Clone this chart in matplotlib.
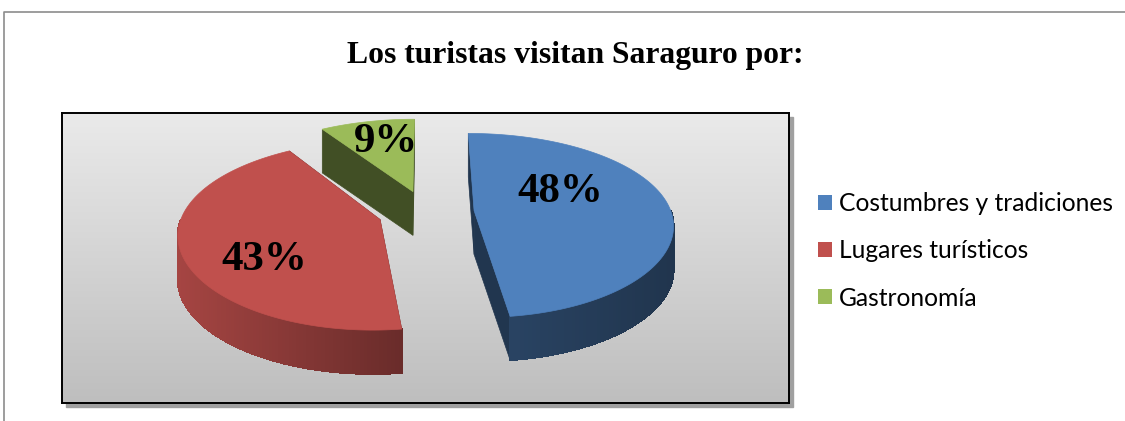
import numpy as np
import matplotlib
matplotlib.use("Agg")
import matplotlib.pyplot as plt
from matplotlib.patches import Polygon, Patch, Rectangle
from matplotlib.colors import to_rgb, LinearSegmentedColormap
from matplotlib.lines import Line2D

# data
categories = ["Costumbres y tradiciones", "Lugares turísticos", "Gastronomía"]
shares = [48, 43, 9]
pct_labels = ["48%", "43%", "9%"]
colors = ["#4F81BD", "#C0504D", "#9BBB59"]
title = "Los turistas visitan Saraguro por:"

# 3d look of the pie
TILT = 0.457
PERSP = 0.161
DEPTH = 0.222
EXPLODE = 0.245
rim_light = [(0.52, 0.41), (0.86, 0.55), (0.5, 0.4)]  # left / right brightness of side
label_nudge = [(0, 16), (-22, -25), (4, 2)]  # px


def project(x, y, z=0.0):
    w = 1 + PERSP * y
    return x / (1 + 0.85 * PERSP * y), TILT * y / w + z


def shade(color, f):
    return tuple(min(1.0, c * f) for c in to_rgb(color))


W, H = 1125, 421
fig = plt.figure(figsize=(W / 100, H / 100), dpi=100)

# outer chart frame (only top and left visible)
fig.add_artist(Line2D([4 / W, 4 / W, 1.0], [0.0, 1 - 12 / H, 1 - 12 / H],
                      transform=fig.transFigure, color="#8c8c8c", lw=1.2))

fig.text(575 / W, 1 - 56 / H, title, ha="center", va="center",
         family="Liberation Serif", weight="bold", fontsize=22.8)

# plot area
left, right, top, bottom = 62, 789, 113, 403
fig.add_artist(Rectangle(((left + 4) / W, (H - bottom - 4) / H),
                         (right - left) / W, (bottom - top) / H,
                         transform=fig.transFigure, color="#a0a0a0", zorder=-1))
ax = fig.add_axes([left / W, (H - bottom) / H, (right - left) / W, (bottom - top) / H])
cx0 = 426
cy0 = 212
scale = 197.0
x0, x1 = (left - cx0) / scale, (right - cx0) / scale
y0, y1 = (cy0 - bottom) / scale, (cy0 - top) / scale
grad = np.linspace(0, 1, 256).reshape(-1, 1)
cmap = LinearSegmentedColormap.from_list("bg", ["#EAEAEA", "#BEBEBE"])
ax.imshow(grad, extent=(x0, x1, y0, y1), aspect="auto", cmap=cmap, zorder=0)
ax.set_xlim(x0, x1)
ax.set_ylim(y0, y1)
ax.set_xticks([])
ax.set_yticks([])
for s in ax.spines.values():
    s.set_color("black")
    s.set_linewidth(1.4)

# slices, angles clockwise from 12 o'clock
total = sum(shares)
starts = np.cumsum([0] + shares[:-1]) / total * 360
ends = np.cumsum(shares) / total * 360
order = [2, 0, 1]
for rank, i in enumerate(order):
    t0, t1 = starts[i], ends[i]
    mid = np.radians((t0 + t1) / 2)
    cx, cy = EXPLODE * np.sin(mid), EXPLODE * np.cos(mid)
    th = np.radians(np.linspace(t0, t1, 160))
    rx, ry = cx + np.sin(th), cy + np.cos(th)
    base = 10 + rank * 5
    side = shade(colors[i], 0.42)

    # radial cut faces
    for k in (0, -1):
        pts = [project(cx, cy), project(rx[k], ry[k]),
               project(rx[k], ry[k], -DEPTH), project(cx, cy, -DEPTH)]
        ax.add_patch(Polygon(pts, closed=True, fc=side, ec=side, lw=0.5, zorder=base))

    # outer rim, front part only, shaded left to right
    front = [a for a in range(len(th) - 1) if np.cos((th[a] + th[a + 1]) / 2) < 0]
    if front:
        xs = [project(rx[a], ry[a])[0] for a in front]
        xmin, xmax = min(xs), max(xs)
        fl, fr = rim_light[i]
        for n, a in enumerate(front):
            u = (xs[n] - xmin) / max(xmax - xmin, 1e-6)
            c = shade(colors[i], fl + (fr - fl) * u)
            pts = [project(rx[a], ry[a]), project(rx[a + 1], ry[a + 1]),
                   project(rx[a + 1], ry[a + 1], -DEPTH), project(rx[a], ry[a], -DEPTH)]
            ax.add_patch(Polygon(pts, closed=True, fc=c, ec=c, lw=0.8,
                                 antialiased=False, zorder=base + 1))

    # top face
    pts = [project(cx, cy)] + [project(u, v) for u, v in zip(rx, ry)]
    ax.add_patch(Polygon(pts, closed=True, fc=colors[i], ec=colors[i], lw=0.5,
                         zorder=base + 2))

    # label at the centroid of the top face
    alpha = np.radians(t1 - t0)
    d = 2 * np.sin(alpha / 2) / (1.5 * alpha)
    lx, ly = project(cx + d * np.sin(mid), cy + d * np.cos(mid))
    ax.annotate(pct_labels[i], (lx, ly),
                xytext=(label_nudge[i][0] * 0.72, label_nudge[i][1] * 0.72),
                textcoords="offset points", ha="center", va="center",
                family="Liberation Serif", weight="bold", fontsize=31, zorder=50)

handles = [Patch(fc=c, ec="none") for c in colors]
fig.legend(handles, categories, loc="center left",
           bbox_to_anchor=(818 / W, 1 - 251 / H), frameon=False,
           prop={"family": "Lato", "size": 17.7}, handlelength=0.55,
           handleheight=0.55, handletextpad=0.3, labelspacing=0.98,
           borderpad=0, borderaxespad=0)

fig.savefig("out.png", dpi=100)
